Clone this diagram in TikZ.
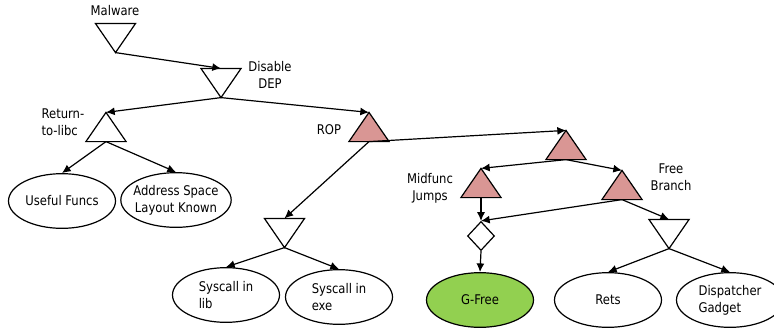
\documentclass[tikz,border=0pt]{standalone}
\usepackage{fontspec}
\setmainfont{DejaVu Sans}[FakeStretch=0.87]
\definecolor{myrose}{RGB}{217,150,148}
\definecolor{mygreen}{RGB}{146,208,80}
\usetikzlibrary{shapes.geometric,arrows.meta,positioning}

\begin{document}
\begin{tikzpicture}[
  x=0.75pt, y=-0.75pt,
  line width=0.9pt,
  font=\fontsize{10}{13}\selectfont,
  tri/.style={minimum width=29.25pt, minimum height=21pt, inner sep=0pt},
  leaf/.style={
    draw,
    ellipse,
    inner sep=0pt,
    minimum width=80.25pt,
    minimum height=41pt,
    align=left
    },
  lbl/.style={inner sep=0pt, align=center},
  arr/.style={-{Latex[length=6.5pt,width=6pt]}}
]
\useasboundingbox (0,0) rectangle (774,329);

% gates
\node [tri] (mal) at (115.5,38) {};
\node [tri] (dep) at (221,83) {};
\node [tri] (ret) at (106,127) {};
\node [tri] (rop) at (369,127) {};
\node [tri] (sys) at (284.5,233) {};
\node [tri] (trr) at (566,145) {};
\node [tri] (mid) at (481,183) {};
\node [tri] (fb)  at (622,185) {};
\node [tri] (fbd) at (669,234) {};
\node [draw, diamond, inner sep=0pt, minimum width=20.25pt, minimum height=21.75pt] (dia) at (481,236) {};

\foreach \t in {mal,dep,sys,fbd}
  \draw [fill=white] (\t.north west) -- (\t.north east) -- (\t.south) -- cycle;
\draw [fill=white] (ret.north) -- (ret.south east) -- (ret.south west) -- cycle;
\foreach \t in {rop,trr,mid,fb}
  \draw [fill=myrose] (\t.north) -- (\t.south east) -- (\t.south west) -- cycle;

% labels
\node [lbl] (lmal) at (115,11) {Malware};
\node [lbl] (ldep) at (270,75) {Disable\\DEP};
\node [lbl, anchor=west, align=left] (lret) at (41,122) {Return-\\to-libc};
\node [lbl] (lrop) at (329,130) {ROP};
\node [lbl] (lmid) at (430,188) {Midfunc\\Jumps};
\node [lbl] (lfb)  at (671,177) {Free\\Branch};

% leaves
\node [leaf] (useful) at (62,201) {Useful Funcs};
\node [leaf, align=center, inner xsep=-2.7pt] (addr) at (176,200) {Address Space\\Layout Known};
\node [leaf] (slib) at (226,295) {Syscall in\\lib};
\node [leaf] (sexe) at (339,297) {Syscall in\\exe};
\node [leaf, fill=mygreen] (gfree) at (480,300) {G-Free};
\node [leaf] (rets) at (608,300) {Rets};
\node [leaf] (disp) at (730,300) {Dispatcher\\Gadget};

% edges
\draw [arr] (mal.south) -- (dep.north);
\draw [arr] (dep.south) -- (ret.north);
\draw [arr] (dep.south) -- (rop.north);
\draw [arr] (ret.south) -- (useful.north);
\draw [arr] (ret.south) -- (addr.north);
\draw [arr] (rop.south) -- (sys.north);
\draw [arr] (rop.south) -- (trr.north);
\draw [arr] (sys.south) -- (slib.north);
\draw [arr] (sys.south) -- (sexe.north);
\draw [arr] (trr.south) -- (mid.north);
\draw [arr] (trr.south) -- (fb.north);
\draw [arr] (mid.south) -- (dia.north);
\draw [arr] (fb.south) -- (dia.north);
\draw [arr] (fb.south) -- (fbd.north);
\draw [arr] (dia.south) -- (gfree.north);
\draw [arr] (fbd.south) -- (rets.north);
\draw [arr] (fbd.south) -- (disp.north);

\end{tikzpicture}
\end{document}
